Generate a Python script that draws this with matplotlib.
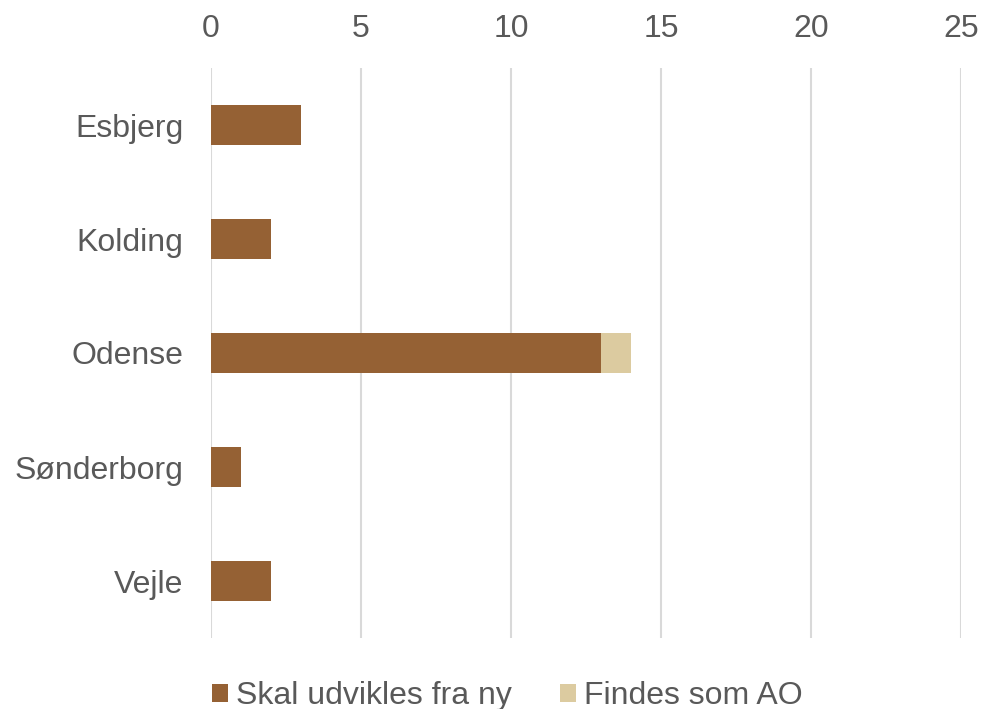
import matplotlib.pyplot as plt
import numpy as np

plt.rcParams['font.family'] = ['Liberation Sans', 'DejaVu Sans']

cities = ['Esbjerg', 'Kolding', 'Odense', 'Sønderborg', 'Vejle']
skal_udvikles = [3, 2, 13, 1, 2]
findes_som_ao = [0, 0, 1, 0, 0]

text_color = '#595959'

fig = plt.figure(figsize=(9.81, 7.09), dpi=100, facecolor='white')
ax = fig.add_axes([211 / 981, 1 - 638 / 709, 750 / 981, 570 / 709])

y = np.arange(len(cities))
ax.barh(y, skal_udvikles, height=0.35, color='#956134', label='Skal udvikles fra ny', zorder=3)
ax.barh(y, findes_som_ao, height=0.35, left=skal_udvikles, color='#dccba0',
        label='Findes som AO', zorder=3)

ax.set_xlim(0, 25)
ax.set_ylim(len(cities) - 0.5, -0.5)
ax.set_yticks(y)
ax.set_yticklabels(cities)
ax.set_xticks(range(0, 26, 5))
ax.xaxis.tick_top()
ax.tick_params(axis='both', length=0, labelsize=23, colors=text_color)
ax.tick_params(axis='x', pad=17)
ax.tick_params(axis='y', pad=20)
ax.grid(axis='x', color='#d9d9d9', lw=1.5, zorder=0)
for s in ax.spines.values():
    s.set_visible(False)

ax.legend(loc='upper center', bbox_to_anchor=(0.395, -0.025), ncol=2, frameon=False,
          fontsize=23, labelcolor=text_color, handlelength=0.5, handleheight=0.5,
          handletextpad=0.25, columnspacing=1.5)

plt.savefig('out.png', dpi=100)
